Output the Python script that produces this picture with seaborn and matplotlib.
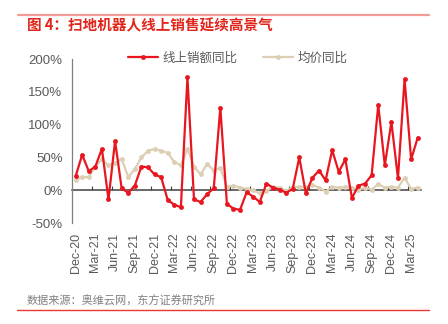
import numpy as np
import pandas as pd
import matplotlib
matplotlib.use("Agg")
import matplotlib.pyplot as plt
from matplotlib.lines import Line2D
from matplotlib.ticker import FuncFormatter
import seaborn as sns

# Monthly YoY growth (%) of robot vacuum online sales, Dec-2020 .. Apr-2025
months = pd.date_range("2020-12-01", "2025-04-01", freq="MS").strftime("%b-%y").tolist()
sales_yoy = [21, 54, 29, 36, 63, -14, 75, 3, -4, 7, 36, 35, 24, 20, -15, -22, -26,
             172, -14, -18, -6, 3, 126, -21, -28, -30, -3, -10, -18, 10, 4, 1, -4,
             2, 50, -5, 19, 30, 15, 61, 28, 47, -12, 7, 10, 23, 130, 38, 104, 18,
             169, 47, 80]
price_yoy = [16, 20, 20, 36, 47, 38, 41, 48, 20, 32, 50, 60, 63, 60, 57, 43, 38,
             63, 36, 24, 40, 30, 34, 5, 7, 4, 2, 0, -5, -1, 5, 4, -1, 5, 5, 5, 8,
             4, -2, 5, 4, 5, 4, 1, 4, 1, 9, 4, 5, 4, 19, 2, 4]
tick_labels = ["Dec-20", "Mar-21", "Jun-21", "Sep-21", "Dec-21", "Mar-22", "Jun-22",
               "Sep-22", "Dec-22", "Mar-23", "Jun-23", "Sep-23", "Dec-23", "Mar-24",
               "Jun-24", "Sep-24", "Dec-24", "Mar-25"]
y_ticks = [-50, 0, 50, 100, 150, 200]

SALES = "线上销额同比"
PRICE = "均价同比"

df = pd.DataFrame({"pos": np.arange(len(months)), "month": months,
                   SALES: sales_yoy, PRICE: price_yoy})
long = df.melt(id_vars=["pos", "month"], var_name="series", value_name="yoy")

RED = "#E8161E"
BEIGE = "#DCCFB4"
GRAY_TXT = "#595959"
AXIS = "#404040"

sns.set_theme(style="white")
plt.rcParams["font.family"] = ["Liberation Sans", "Noto Sans CJK SC", "DejaVu Sans"]

fig = plt.figure(figsize=(4.48, 3.24), dpi=100)
ax = fig.add_axes([72.3 / 448, 1 - 223 / 324, (421 - 72.3) / 448, (223 - 59) / 324])

sns.lineplot(data=long[long.series == PRICE], x="pos", y="yoy", color=BEIGE,
             marker="o", markersize=3.5, markeredgewidth=0, linewidth=1.6,
             label=PRICE, ax=ax)
sns.lineplot(data=long[long.series == SALES], x="pos", y="yoy", color=RED,
             marker="o", markersize=3.5, markeredgewidth=0, linewidth=1.6,
             label=SALES, ax=ax)

ax.set_xlim(-0.5, len(months) - 0.5)
ax.set_ylim(-50, 200)
ax.set_xlabel("")
ax.set_ylabel("")

# category labels every quarter
tick_pos = [months.index(t) for t in tick_labels]
ax.set_xticks(tick_pos)
ax.set_xticklabels(tick_labels, rotation=90, fontsize=9, color=GRAY_TXT)
ax.tick_params(axis="x", length=0, pad=7)

ax.set_yticks(y_ticks)
ax.yaxis.set_major_formatter(FuncFormatter(lambda v, _: f"{v:.0f}%"))
ax.tick_params(axis="y", direction="in", length=2.5, width=0.8, color="#7f7f7f",
               labelsize=9.5, labelcolor=GRAY_TXT, pad=7)

for s in ["top", "right", "bottom"]:
    ax.spines[s].set_visible(False)
ax.spines["left"].set_color("#7f7f7f")
ax.spines["left"].set_linewidth(0.9)

# zero baseline with quarter boundary ticks
zero = ax.secondary_xaxis((0 - (-50)) / 250)
zero.spines["bottom"].set_color(AXIS)
zero.spines["bottom"].set_linewidth(1.1)
zero.set_xticks([p - 0.5 for p in tick_pos[1:]])
zero.set_xticklabels([])
zero.tick_params(direction="in", length=3, width=0.8, color=AXIS)

handles, labels = ax.get_legend_handles_labels()
order = [labels.index(SALES), labels.index(PRICE)]
ax.legend([handles[i] for i in order], [labels[i] for i in order],
          loc="center", bbox_to_anchor=(237.5 / 448, 1 - 58 / 324),
          bbox_transform=fig.transFigure, ncol=2, frameon=False,
          fontsize=9, labelcolor=GRAY_TXT, handlelength=2.4,
          handletextpad=0.4, columnspacing=2.0,
          prop={"family": ["Noto Sans CJK SC"], "size": 9})

# header and footer
fig.add_artist(Line2D([18 / 448, 429 / 448], [1 - 14.7 / 324] * 2,
                      color="#F29A96", linewidth=1.6))
fig.text(27 / 448, 1 - 25.5 / 324, "图 4：扫地机器人线上销售延续高景气",
         fontsize=10.5, fontweight="bold", color="#E1251B", va="center",
         family=["Noto Sans CJK SC", "DejaVu Sans"])
fig.text(27 / 448, 1 - 301 / 324, "数据来源：奥维云网，东方证券研究所",
         fontsize=8, color="#808080", va="center",
         family=["Noto Sans CJK SC", "DejaVu Sans"])
fig.add_artist(Line2D([17 / 448, 429 / 448], [1 - 310 / 324] * 2,
                      color="#E53935", linewidth=1.0))

fig.savefig("out.png", dpi=100)
